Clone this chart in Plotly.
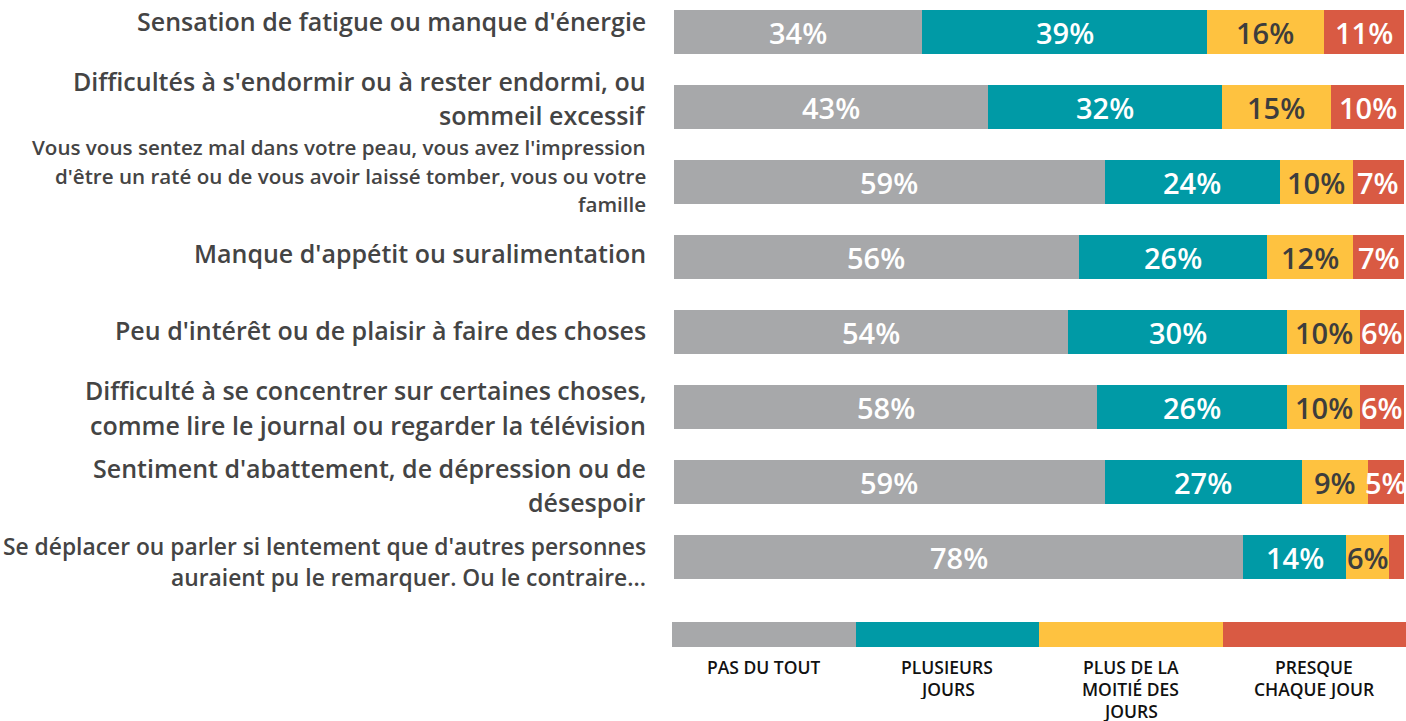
import plotly.graph_objects as go

categories = [
    "Sensation de fatigue ou manque d'énergie",
    "Difficultés à s'endormir ou à rester endormi, ou<br>sommeil excessif",
    "Vous vous sentez mal dans votre peau, vous avez l'impression<br>d'être un raté ou de vous avoir laissé tomber, vous ou votre<br>famille",
    "Manque d'appétit ou suralimentation",
    "Peu d'intérêt ou de plaisir à faire des choses",
    "Difficulté à se concentrer sur certaines choses,<br>comme lire le journal ou regarder la télévision",
    "Sentiment d'abattement, de dépression ou de<br>désespoir",
    "Se déplacer ou parler si lentement que d'autres personnes<br>auraient pu le remarquer. Ou le contraire...",
]
label_sizes = [25, 25, 20.6, 25, 25, 25, 25, 22.8]

series_names = ["PAS DU TOUT", "PLUSIEURS<br>JOURS", "PLUS DE LA<br>MOITIÉ DES<br>JOURS", "PRESQUE<br>CHAQUE JOUR"]
pas_du_tout = [34, 43, 59, 56, 54, 58, 59, 78]
plusieurs_jours = [39, 32, 24, 26, 30, 26, 27, 14]
plus_moitie = [16, 15, 10, 12, 10, 10, 9, 6]
presque_chaque = [11, 10, 7, 7, 6, 6, 5, 2]
series_values = [pas_du_tout, plusieurs_jours, plus_moitie, presque_chaque]
MIN_LABEL = 3  # segments below this share carry no label

colors = ["#a7a8aa", "#009aa6", "#fec240", "#d95a43"]
text_colors = ["#ffffff", "#ffffff", "#3d3d3d", "#ffffff"]

FONT = "Open Sans"
W, H = 1406, 721

n_rows = len(categories)
ypos = list(range(n_rows))
row_tot = [sum(s[i] for s in series_values) for i in range(n_rows)]

fig = go.Figure()
annotations = []
cum = [0.0] * n_rows
for name, vals, col, tcol in zip(series_names, series_values, colors, text_colors):
    shares = [100.0 * v / t for v, t in zip(vals, row_tot)]
    fig.add_trace(go.Bar(
        x=shares, y=ypos, orientation="h", name=name,
        marker=dict(color=col, line=dict(width=0)),
        hoverinfo="skip", showlegend=False,
        xaxis="x", yaxis="y",
    ))
    for i, (v, s) in enumerate(zip(vals, shares)):
        if v >= MIN_LABEL:
            annotations.append(dict(
                x=cum[i] + s / 2, y=i, xref="x", yref="y",
                text=f"{v}%", showarrow=False, xanchor="center", yanchor="middle",
                font=dict(family=FONT, size=29, color=tcol, weight=600),
            ))
        cum[i] += s

# legend bar drawn as a separate stacked bar row
for name, col in zip(series_names, colors):
    fig.add_trace(go.Bar(
        x=[25], y=[0], orientation="h", marker=dict(color=col, line=dict(width=0)),
        hoverinfo="skip", showlegend=False, xaxis="x2", yaxis="y2", width=1,
    ))

# category labels on their own (slightly looser) label axis, one annotation per line
for i, (cat, fs) in enumerate(zip(categories, label_sizes)):
    lines = cat.split("<br>")
    n = len(lines)
    sp = fs * 1.37
    for j, ln in enumerate(lines):
        annotations.append(dict(
            x=-0.033, xref="paper", y=i, yref="y3", xanchor="right", yanchor="middle",
            text=ln, showarrow=False, yshift=((n - 1) / 2 - j) * sp,
            font=dict(family=FONT, size=fs, color="#444444", weight=600),
        ))

# legend labels, one annotation per line
LEG_FS = 17.5
LEG_SP = 22
for k, name in enumerate(series_names):
    for j, ln in enumerate(name.split("<br>")):
        annotations.append(dict(
            x=12.5 + 25 * k, xref="x2", y=1 - 666 / H, yref="paper",
            xanchor="center", yanchor="middle", text=ln, showarrow=False,
            yshift=-LEG_SP * j, height=LEG_SP - 1,
            font=dict(family=FONT, size=LEG_FS, color="#111111", weight=600),
        ))

fig.update_layout(
    width=W, height=H,
    barmode="stack", bargap=0.41,
    margin=dict(l=672, r=0, t=0, b=0),
    paper_bgcolor="white", plot_bgcolor="white",
    xaxis=dict(domain=[2 / 734, 1 - 2 / 734], range=[0, 100], visible=False, fixedrange=True),
    yaxis=dict(domain=[1 - 585 / H, 1 - 5 / H], range=[7.373, -0.36], visible=False),
    yaxis3=dict(overlaying="y", range=[7.298, -0.207], visible=False),
    xaxis2=dict(domain=[0, 1], range=[0, 100], visible=False, anchor="y2"),
    yaxis2=dict(domain=[1 - 647 / H, 1 - 622 / H], range=[-0.5, 0.5], visible=False, anchor="x2"),
    annotations=annotations,
)

fig.write_html(
    "out.html",
    config={"displayModeBar": False},
    post_script="document.body.style.margin='0';document.body.style.overflow='hidden';",
)
